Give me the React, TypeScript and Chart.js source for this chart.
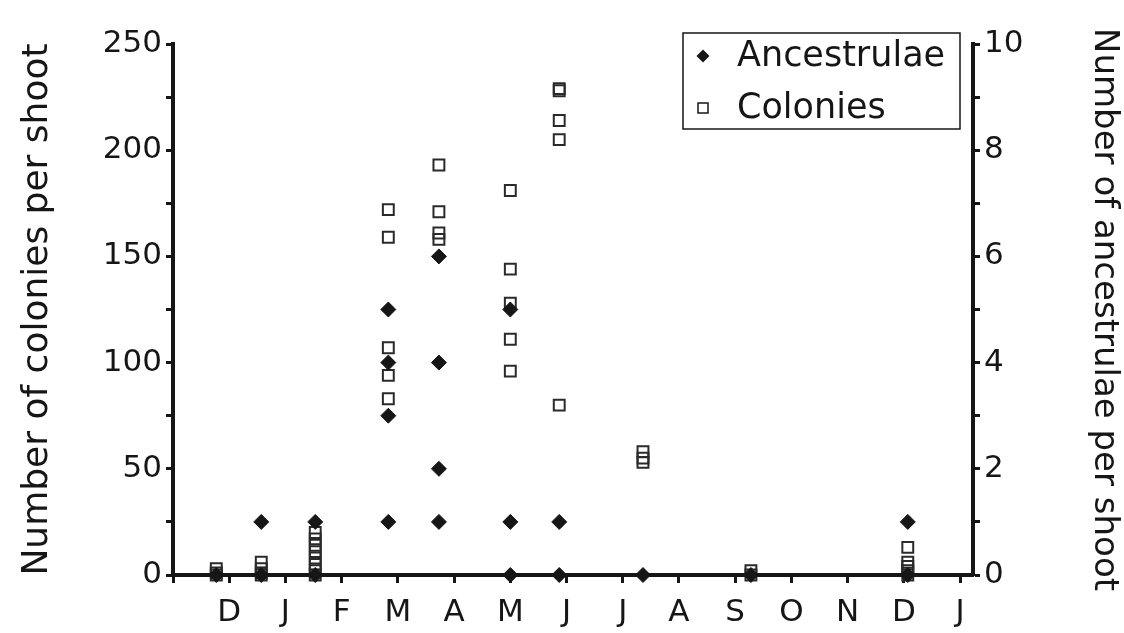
import React, { useEffect, useRef } from "react";
import { Chart, registerables } from "chart.js";

Chart.register(...registerables);

// ---- data ----
const monthLabels = ["D", "J", "F", "M", "A", "M", "J", "J", "A", "S", "O", "N", "D", "J"];
const sampleX = [0.77, 1.57, 2.53, 3.83, 4.73, 6.0, 6.87, 8.36, 10.28, 13.07];
const coloniesBySample = [
  [3, 1, 0],
  [6, 3, 1, 0],
  [20, 17, 14, 11, 8, 5, 2, 0],
  [172, 159, 107, 94, 83],
  [193, 171, 161, 158],
  [181, 144, 128, 111, 96],
  [229, 228, 214, 205, 80],
  [58, 55, 53],
  [2, 0],
  [13, 6, 4, 2, 0],
];
const ancestrulaeBySample = [
  [0],
  [1, 0],
  [1, 0],
  [5, 4, 3, 1],
  [6, 4, 2, 1],
  [5, 1, 0],
  [1, 0],
  [0],
  [0],
  [1, 0],
];
const seriesNames = ["Ancestrulae", "Colonies"];
const leftTitle = "Number of colonies per shoot";
const rightTitle = "Number of ancestrulae per shoot";

const FONT = "'DejaVu Sans', sans-serif";
const INK = "#161616";

const flatten = (groups: number[][]) =>
  groups.flatMap((vals, i) => vals.map((v) => ({ x: sampleX[i], y: v })));

const boxLegend = {
  id: "boxLegend",
  afterDraw(chart: any, _args: any, opts: any) {
    const { ctx } = chart;
    ctx.save();
    ctx.fillStyle = "#fff";
    ctx.fillRect(opts.left, opts.top, opts.width, opts.height);
    ctx.strokeStyle = INK;
    ctx.lineWidth = 1.5;
    ctx.strokeRect(opts.left, opts.top, opts.width, opts.height);
    chart.data.datasets.forEach((ds: any, i: number) => {
      const cy = opts.top + opts.firstRow + i * opts.rowGap;
      const mx = opts.left + opts.markerX;
      ctx.beginPath();
      if (ds.pointStyle === "rectRot") {
        const r = 6.5;
        ctx.moveTo(mx, cy - r);
        ctx.lineTo(mx + r, cy);
        ctx.lineTo(mx, cy + r);
        ctx.lineTo(mx - r, cy);
        ctx.closePath();
        ctx.fillStyle = INK;
        ctx.fill();
      } else {
        const s = 10;
        ctx.lineWidth = 1.5;
        ctx.strokeStyle = INK;
        ctx.strokeRect(mx - s / 2, cy - s / 2, s, s);
      }
      ctx.fillStyle = INK;
      ctx.font = `${opts.fontSize}px ${FONT}`;
      ctx.textBaseline = "middle";
      ctx.textAlign = "left";
      ctx.fillText(ds.label, opts.left + opts.textX, cy + 1);
    });
    ctx.restore();
  },
};

export default function App() {
  const ref = useRef<HTMLCanvasElement>(null);

  useEffect(() => {
    if (!ref.current) return;
    const chart = new Chart(ref.current, {
      type: "scatter",
      data: {
        datasets: [
          {
            label: seriesNames[0],
            data: flatten(ancestrulaeBySample),
            yAxisID: "y2",
            pointStyle: "rectRot",
            pointRadius: 7.5,
            backgroundColor: INK,
            borderColor: INK,
            borderWidth: 1,
            clip: false,
          } as any,
          {
            label: seriesNames[1],
            data: flatten(coloniesBySample),
            yAxisID: "y",
            pointStyle: "rect",
            pointRadius: 7.7,
            backgroundColor: "rgba(0,0,0,0)",
            borderColor: "#2a2a2a",
            borderWidth: 2,
            clip: false,
          } as any,
        ],
      },
      options: {
        animation: false,
        responsive: false,
        maintainAspectRatio: false,
        layout: { padding: { top: 44, left: 0, right: 0, bottom: 0 } },
        plugins: {
          legend: { display: false },
          tooltip: { enabled: false },
          boxLegend: {
            left: 683,
            top: 33,
            width: 277,
            height: 96,
            markerX: 20,
            textX: 54,
            firstRow: 23,
            rowGap: 52,
            fontSize: 35,
          },
        } as any,
        scales: {
          x: {
            type: "linear",
            position: "bottom",
            min: 0,
            max: 14.23,
            afterBuildTicks: (s: any) => {
              s.ticks = [0, ...monthLabels.map((_, i) => i + 1)].map((v) => ({ value: v }));
            },
            afterFit: (s: any) => {
              s.height = 58;
            },
            ticks: {
              autoSkip: false,
              maxRotation: 0,
              padding: 11,
              color: INK,
              font: { family: FONT, size: 31 },
              callback: (v: any) => monthLabels[Number(v) - 1] ?? "",
            },
            grid: {
              drawOnChartArea: false,
              drawTicks: true,
              tickLength: 8,
              tickWidth: 3,
              tickColor: INK,
            },
            border: { display: true, color: INK, width: 4 },
          },
          y: {
            type: "linear",
            position: "left",
            min: 0,
            max: 250,
            afterFit: (s: any) => {
              s.width = 173;
            },
            ticks: {
              stepSize: 25,
              padding: 4,
              color: INK,
              font: { family: FONT, size: 31 },
              callback: (v: any) => (Number(v) % 50 === 0 ? String(v) : ""),
            },
            grid: {
              drawOnChartArea: false,
              drawTicks: true,
              tickLength: 7,
              tickWidth: 3,
              tickColor: INK,
            },
            border: { display: true, color: INK, width: 4 },
            title: {
              display: true,
              text: leftTitle,
              color: INK,
              font: { family: FONT, size: 36 },
              padding: { top: 16, bottom: 0 },
            },
          },
          y2: {
            type: "linear",
            position: "right",
            min: 0,
            max: 10,
            afterFit: (s: any) => {
              s.width = 151;
            },
            ticks: {
              stepSize: 1,
              padding: 4,
              color: INK,
              font: { family: FONT, size: 31 },
              callback: (v: any) => (Number(v) % 2 === 0 ? String(v) : ""),
            },
            grid: {
              drawOnChartArea: false,
              drawTicks: true,
              tickLength: 7,
              tickWidth: 3,
              tickColor: INK,
            },
            border: { display: true, color: INK, width: 4 },
            title: {
              display: true,
              text: rightTitle,
              color: INK,
              font: { family: FONT, size: 34 },
              padding: { top: 0, bottom: 0 },
            },
          },
        },
      },
      plugins: [boxLegend],
    });
    return () => chart.destroy();
  }, []);

  return (
    <div style={{ position: "fixed", left: 0, top: 0, width: 1124, height: 633, background: "#fff" }}>
      <canvas ref={ref} width={1124} height={633} style={{ display: "block", width: 1124, height: 633 }} />
    </div>
  );
}
